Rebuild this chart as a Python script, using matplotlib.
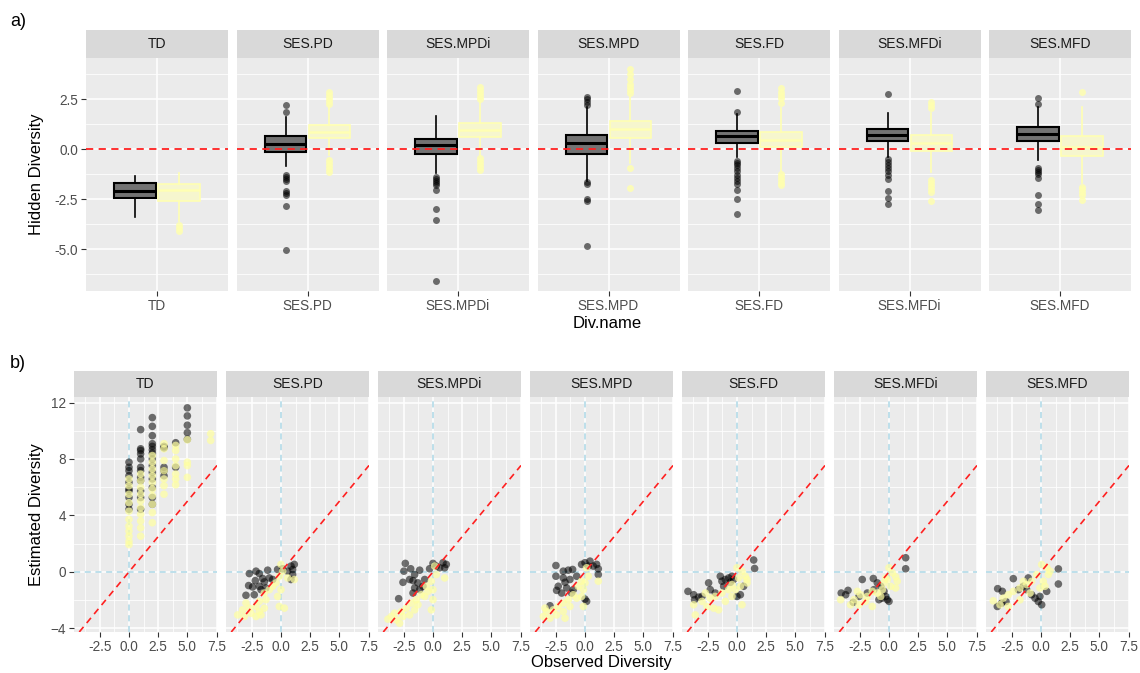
import matplotlib
matplotlib.use("Agg")
import matplotlib.pyplot as plt

plt.rcParams["font.family"] = ["Liberation Sans", "DejaVu Sans"]

div_names = ["TD", "SES.PD", "SES.MPDi", "SES.MPD", "SES.FD", "SES.MFDi", "SES.MFD"]

# ---- panel a) box statistics (hidden diversity), dark group
dark_q1 = [-2.42, -0.13, -0.25, -0.25, 0.33, 0.42, 0.42]
dark_med = [-2.08, 0.28, 0.20, 0.32, 0.65, 0.70, 0.77]
dark_q3 = [-1.67, 0.65, 0.53, 0.73, 0.92, 1.03, 1.12]
dark_lo = [-3.38, -0.83, -1.18, -1.60, -0.38, -0.38, -0.52]
dark_hi = [-1.33, 1.60, 1.67, 2.10, 1.75, 1.78, 2.12]
dark_fliers = [
    [],
    [1.85, 2.2, -1.3, -1.4, -1.5, -1.6, -2.1, -2.2, -2.3, -2.85, -5.05],
    [-1.38, -1.5, -1.6, -1.7, -1.8, -2.05, -2.97, -3.52, -6.58],
    [2.2, 2.35, 2.5, 2.62, -1.65, -1.72, -2.5, -2.58, -4.83],
    [2.92, 1.85, -0.6, -0.7, -0.8, -0.95, -1.1, -1.3, -1.45, -1.6, -1.75, -2.05, -2.47, -3.25],
    [2.75, -0.5, -0.65, -0.8, -0.95, -1.1, -1.3, -1.5, -2.1, -2.43, -2.75],
    [2.25, 2.57, -0.95, -1.05, -1.15, -1.25, -1.45, -2.27, -2.75, -3.05],
]

# ---- panel a) light group
light_q1 = [-2.57, 0.57, 0.62, 0.57, 0.12, -0.10, -0.35]
light_med = [-2.05, 0.87, 0.98, 1.03, 0.45, 0.32, 0.12]
light_q3 = [-1.72, 1.23, 1.33, 1.43, 0.87, 0.73, 0.67]
light_lo = [-3.58, -0.30, -0.35, -0.70, -1.10, -1.13, -1.68]
light_hi = [-1.17, 2.15, 2.40, 2.65, 2.03, 1.78, 2.12]
light_fliers = [
    [-3.8, -3.95, -4.1],
    [2.25, 2.4, 2.55, 2.7, 2.85, -0.55, -0.7, -0.85, -1.0, -1.15],
    [2.5, 2.65, 2.8, 2.95, 3.1, -0.45, -0.6, -0.75, -0.9, -1.05],
    [2.8, 2.95, 3.1, 3.25, 3.5, 3.75, 4.0, -0.93, -1.93],
    [2.3, 2.55, 2.7, 2.85, 3.05, -1.25, -1.4, -1.55, -1.7, -1.8],
    [2.05, 2.2, 2.35, -1.55, -1.7, -1.85, -2.0, -2.13, -2.58],
    [2.87, -1.88, -2.0, -2.15, -2.3, -2.55],
]

# ---- panel b) TD: observed value -> estimated values
td_dark_obs = [0, 1, 2, 3, 4, 5]
td_dark_est = [
    [7.77, 7.41, 7.17, 6.81, 6.34, 5.86, 5.74, 5.27, 4.79, 4.43],
    [10.08, 8.72, 8.6, 8.36, 8.0, 7.41, 7.17, 6.7, 6.46, 5.74, 5.27, 4.43],
    [10.93, 10.31, 9.65, 9.08, 8.89, 8.65, 8.41, 8.0, 7.53, 7.05, 6.58, 5.98, 5.27, 4.79],
    [8.89, 8.79, 7.41, 7.17, 6.81],
    [9.15, 7.41],
    [11.62, 11.05, 10.39, 9.86, 9.39],
]
td_light_obs = [0, 1, 2, 3, 4, 5, 7]
td_light_est = [
    [6.58, 6.1, 5.5, 4.9, 4.3, 3.72, 3.24, 2.89, 2.53, 2.17, 1.93],
    [6.93, 6.46, 5.98, 5.5, 5.03, 4.55, 4.08, 3.6, 3.12, 2.53],
    [8.24, 7.77, 7.29, 6.81, 6.34, 5.86, 5.39, 4.79, 4.2, 3.48],
    [9.08, 8.72, 7.89, 7.17, 6.58, 6.1, 5.5],
    [8.96, 8.6, 8.0, 7.53, 6.93, 6.58, 6.17],
    [9.36, 7.77, 7.53, 6.7],
    [9.79, 9.31],
]

# ---- panel b) SES metrics: (observed, estimated)
pd_dark = [(-2.14, 0.05), (-2.71, -0.12), (-1.14, 0.12), (-1.86, -0.12), (-2.2, -0.62),
           (-2.77, -0.97), (-2.43, -1.07), (-1.57, -0.47), (-1.0, -0.43), (-1.43, -0.71),
           (-1.86, -1.02), (-3.0, -1.66), (-2.29, -1.62), (-1.71, -1.26), (-1.29, -1.14),
           (-0.71, -0.54), (-0.29, 0.17), (0.14, 0.22), (0.86, 0.41), (1.14, 0.53),
           (1.0, 0.17), (0.57, 0.05), (0.86, -0.54), (1.0, -0.19)]
pd_light = [(0, 0.53), (0.14, 0.05), (-0.14, -0.31), (-0.43, -0.78), (0, -1.26),
            (-0.29, -1.74), (-0.14, -2.45), (0.29, -2.57), (-1.0, -1.26), (-1.43, -1.5),
            (-1.86, -2.09), (-2.14, -2.45), (-2.71, -2.57), (-3.29, -2.69), (-3.71, -3.05),
            (-3.14, -3.16), (-2.57, -2.93), (-1.86, -2.81), (-1.43, -2.57), (-1.71, -3.05),
            (-2.14, -3.16), (-1.29, -1.97), (-0.71, -1.02), (1.14, -0.54), (0.57, -0.43),
            (-3.0, -2.21)]
mpdi_dark = [(-2.37, 0.6), (-1.91, 0.22), (-1.14, 0.12), (-2.49, 0.05), (-1.57, -0.19),
             (-2.0, -0.54), (-2.57, -0.74), (-1.71, -0.62), (-1.29, -0.78), (-0.71, -0.54),
             (-1.57, -1.14), (-1.14, -1.26), (-0.86, -1.02), (-2.94, -1.9), (-1.71, -1.5),
             (0, 0.6), (0.29, 0.41), (0.86, 0.65), (1.14, 0.53), (1.0, 0.29),
             (0.57, 0.29), (-0.29, 0.22)]
mpdi_light = [(0.14, 0.41), (0.29, -0.19), (-0.14, -0.66), (0, -1.26), (0, -1.97),
              (-0.14, -2.69), (1.0, -0.43), (-0.57, -1.02), (-1.0, -1.62), (-1.43, -1.97),
              (-1.86, -2.21), (-2.29, -2.57), (-2.71, -2.81), (-3.29, -2.93), (-3.86, -3.35),
              (-3.14, -3.4), (-2.57, -3.16), (-2.0, -3.05), (-1.57, -2.69), (-1.29, -2.33),
              (-0.71, -1.74), (-2.86, -3.64), (-3.57, -3.16), (-0.43, -1.38)]
mpd_dark = [(-2.49, 0.45), (-1.06, 0.17), (-1.43, 0.12), (-1.86, 0.05), (-2.49, -0.31),
            (-1.86, -0.43), (-1.29, -0.54), (-0.71, -0.31), (-1.71, -0.74), (-2.29, -1.02),
            (-2.43, -1.31), (-1.57, -1.14), (-1.14, -1.5), (-2.0, -1.5), (-1.0, -1.26),
            (0, -1.93), (0.14, -2.09), (0, 0.65), (0.43, 0.76), (1.0, 0.53),
            (1.14, 0.22), (0.71, 0.41), (0.29, 0.41), (-0.29, 0.53), (1.14, -0.19),
            (-3.0, -2.4)]
mpd_light = [(0.14, 0.29), (0.29, -0.31), (0, -0.78), (-0.14, -1.26), (-0.29, -1.74),
             (-0.14, -2.45), (1.14, -0.66), (-0.57, -1.02), (-1.0, -1.62), (-1.43, -1.97),
             (-1.86, -2.21), (-2.29, -2.45), (-2.71, -2.69), (-3.29, -2.81), (-3.57, -3.16),
             (-3.0, -3.28), (-2.43, -3.05), (-1.86, -2.81), (-1.29, -2.45), (-0.71, -1.86),
             (-3.43, -2.57), (-1.71, -3.28), (-0.29, -0.66)]
fd_dark = [(-4.2, -1.38), (-3.71, -1.62), (-3.29, -1.79), (-3.63, -1.97), (-2.43, -0.78),
           (-2.29, -1.26), (-1.43, -0.31), (-1.29, -0.66), (-1.0, -0.54), (-0.71, -0.43),
           (-0.57, -0.74), (-1.14, -1.02), (-0.43, -0.31), (-0.29, -0.54), (0, -1.74),
           (0.29, -1.62), (0.57, -1.02), (1.43, 0.84), (1.51, 0.24), (-1.86, -1.5),
           (-3.0, -1.74)]
fd_light = [(0, 0.29), (0.43, 0.05), (0.14, -0.43), (0.71, -0.31), (0.86, -0.78),
            (0.29, -1.02), (-0.14, -1.26), (-0.43, -1.74), (-0.71, -1.26), (-1.29, -1.5),
            (-1.86, -1.74), (-2.29, -1.86), (-2.71, -1.5), (-3.0, -2.09), (-2.57, -2.45),
            (-2.0, -2.57), (-1.57, -2.69), (-3.57, -3.05), (-3.71, -2.33), (-1.0, -2.09),
            (0.43, -2.33), (0.86, -0.54), (-0.43, -0.9)]
mfdi_dark = [(-4.09, -1.5), (-3.51, -1.31), (-3.71, -1.62), (-3.06, -2.16), (-2.29, -0.54),
             (-2.57, -1.74), (-1.34, -0.47), (-1.0, -0.78), (-0.71, -1.02), (-0.86, -1.97),
             (-0.57, -1.86), (-0.29, -1.74), (-0.14, -1.97), (0, -2.09), (-0.43, -1.38),
             (1.43, 1.0), (1.43, 0.22), (-1.29, -1.26), (-1.86, -1.5)]
mfdi_light = [(0, 0.29), (0.29, -0.07), (0.57, -0.35), (-0.14, -0.54), (-0.43, -0.78),
              (0.14, -1.02), (0.57, -1.14), (-0.57, -1.26), (-1.0, -1.5), (-1.43, -1.38),
              (-1.86, -1.74), (-2.43, -1.62), (-2.71, -1.38), (-3.0, -1.97), (-4.14, -1.97),
              (-2.57, -2.33), (-2.0, -2.09), (-1.43, -2.45), (-0.71, -1.74), (0.71, -0.66),
              (-3.29, -2.33), (-0.29, -0.43)]
mfd_dark = [(-3.71, -1.19), (-3.31, -1.38), (-2.37, -0.48), (-1.94, -1.26), (-3.74, -2.45),
            (-3.37, -2.21), (-3.0, -2.1), (-1.23, -1.26), (-0.8, -1.62), (-0.51, -1.86),
            (-0.23, -2.1), (0.06, -2.33), (0.49, -1.38), (1.49, 0.21), (1.49, -0.86),
            (-1.09, -0.43), (-1.51, -1.02), (-0.09, -1.74)]
mfd_light = [(0.06, 0.52), (0.49, 0.33), (0.77, 0.05), (-0.37, -0.19), (-0.8, -0.67),
             (0.2, -0.67), (0.63, -0.19), (-1.23, -0.9), (-1.8, -1.14), (-2.37, -1.38),
             (-2.8, -1.62), (-3.23, -1.86), (-4.09, -2.05), (-3.51, -2.33), (-2.8, -2.45),
             (-1.8, -1.98), (-0.94, -1.5), (-0.09, -1.14), (0.34, -1.02), (-1.51, -0.67)]

W, H = 1140, 673
BG = "#EBEBEB"
STRIP = "#D9D9D9"
TICK_TXT = "#4D4D4D"
DARK_PT = "black"
LIGHT_PT = "#FFFFA0"

fig = plt.figure(figsize=(W / 100, H / 100), dpi=100)


def px_axes(x, y, w, h):
    return fig.add_axes([x / W, 1 - (y + h) / H, w / W, h / H])


def style_panel(ax, first):
    ax.set_facecolor(BG)
    for s in ax.spines.values():
        s.set_visible(False)
    ax.set_axisbelow(True)
    ax.grid(True, which="major", color="white", lw=1.1)
    ax.grid(True, which="minor", color="white", lw=0.55)
    ax.tick_params(which="major", length=3.5, width=0.8, color="#333333",
                   labelcolor=TICK_TXT, labelsize=9.8, pad=2)
    ax.tick_params(which="minor", length=0)
    if not first:
        ax.tick_params(axis="y", which="both", left=False, labelleft=False)


def add_strip(x, y, w, h, label):
    sax = px_axes(x, y, w, h)
    sax.set_facecolor(STRIP)
    sax.set_xticks([])
    sax.set_yticks([])
    for s in sax.spines.values():
        s.set_visible(False)
    sax.text(0.5, 0.5, label, ha="center", va="center", fontsize=10,
             color="#1A1A1A", transform=sax.transAxes)


# ---------------- a) boxplots ----------------
for i, name in enumerate(div_names):
    left = 86 + i * 150.5
    ax = px_axes(left, 58, 142, 233)
    add_strip(left, 30, 142, 28, name)
    style_panel(ax, i == 0)
    ax.set_xlim(-0.6, 0.6)
    ax.set_ylim(-7.08, 4.55)
    ax.set_yticks([-5, -2.5, 0, 2.5])
    ax.set_yticklabels(["-5.0", "-2.5", "0.0", "2.5"])
    ax.set_yticks([-6.25, -3.75, -1.25, 1.25, 3.75], minor=True)
    ax.set_xticks([0])
    ax.set_xticklabels([name])
    ax.grid(False, axis="x", which="minor")

    dstat = dict(med=dark_med[i], q1=dark_q1[i], q3=dark_q3[i],
                 whislo=dark_lo[i], whishi=dark_hi[i], fliers=dark_fliers[i])
    lstat = dict(med=light_med[i], q1=light_q1[i], q3=light_q3[i],
                 whislo=light_lo[i], whishi=light_hi[i], fliers=light_fliers[i])
    ax.bxp([dstat], positions=[-0.185], widths=0.35, patch_artist=True,
           showcaps=False, manage_ticks=False,
           boxprops=dict(facecolor="#737373", edgecolor="black", lw=1.5),
           medianprops=dict(color="black", lw=2.2),
           whiskerprops=dict(color="black", lw=1.2),
           flierprops=dict(marker="o", markerfacecolor="black", markeredgecolor="none",
                           alpha=0.55, markersize=5))
    ax.bxp([lstat], positions=[0.185], widths=0.35, patch_artist=True,
           showcaps=False, manage_ticks=False,
           boxprops=dict(facecolor="#F6F6CE", edgecolor="#FFFFB3", lw=1.2),
           medianprops=dict(color="#FFFFB3", lw=1.8),
           whiskerprops=dict(color="#FFFFB3", lw=1.2),
           flierprops=dict(marker="o", markerfacecolor="#FFFFB0", markeredgecolor="none",
                           alpha=0.85, markersize=5))
    ax.axhline(0, color="#FF2020", ls=(0, (4, 3)), lw=1.3, zorder=5)

fig.text(607 / W, 1 - 323 / H, "Div.name", ha="center", va="center", fontsize=12)
fig.text(37 / W, 1 - 174 / H, "Hidden Diversity", ha="center", va="center",
         rotation=90, fontsize=12)
fig.text(10 / W, 1 - 22 / H, "a)", ha="left", va="center", fontsize=13)

# ---------------- b) scatter panels ----------------
td_dark_x = [o for o, vals in zip(td_dark_obs, td_dark_est) for _ in vals]
td_dark_y = [v for vals in td_dark_est for v in vals]
td_light_x = [o for o, vals in zip(td_light_obs, td_light_est) for _ in vals]
td_light_y = [v for vals in td_light_est for v in vals]

ses_dark = [pd_dark, mpdi_dark, mpd_dark, fd_dark, mfdi_dark, mfd_dark]
ses_light = [pd_light, mpdi_light, mpd_light, fd_light, mfdi_light, mfd_light]

for i, name in enumerate(div_names):
    left = 74 + i * 152
    ax = px_axes(left, 397, 143, 235)
    add_strip(left, 371, 143, 26, name)
    style_panel(ax, i == 0)
    ax.set_xlim(-4.71, 7.54)
    ax.set_ylim(-4.26, 12.39)
    ax.set_xticks([-2.5, 0, 2.5, 5, 7.5])
    ax.set_xticklabels(["-2.5", "0.0", "2.5", "5.0", "7.5"])
    ax.set_xticks([-3.75, -1.25, 1.25, 3.75, 6.25], minor=True)
    ax.set_yticks([-4, 0, 4, 8, 12])
    ax.set_yticks([-2, 2, 6, 10], minor=True)

    ax.axvline(0, color="#ADD8E6", ls=(0, (4, 3)), lw=1.1, zorder=1.5)
    ax.axhline(0, color="#ADD8E6", ls=(0, (4, 3)), lw=1.1, zorder=1.5)

    if i == 0:
        dx, dy, lx, ly = td_dark_x, td_dark_y, td_light_x, td_light_y
    else:
        dx, dy = zip(*ses_dark[i - 1])
        lx, ly = zip(*ses_light[i - 1])
    ax.scatter(dx, dy, s=30, color=DARK_PT, alpha=0.55, edgecolors="none", zorder=2)
    ax.scatter(lx, ly, s=30, color=LIGHT_PT, alpha=0.7, edgecolors="none", zorder=2.5)
    ax.axline((0, 0), slope=1, color="#FF2020", ls=(0, (4, 3)), lw=1.2, zorder=4)

fig.text(601 / W, 1 - 663 / H, "Observed Diversity", ha="center", va="center", fontsize=12)
fig.text(37 / W, 1 - 515 / H, "Estimated Diversity", ha="center", va="center",
         rotation=90, fontsize=12)
fig.text(10 / W, 1 - 363 / H, "b)", ha="left", va="center", fontsize=13)

fig.savefig("out.png", dpi=100, facecolor="white")
